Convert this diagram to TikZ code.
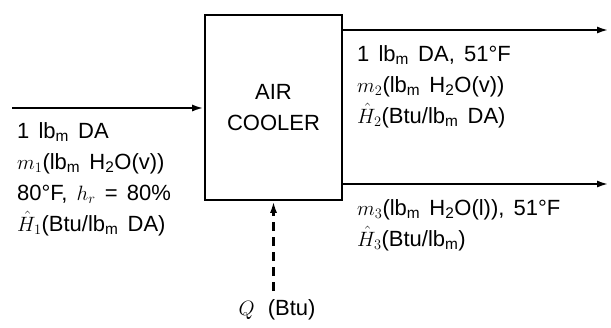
\documentclass[tikz,border=0pt]{standalone}
\usepackage{amsmath}
\usepackage{fontspec}
\setmainfont[WordSpace=1.5]{Liberation Sans}
\usepackage{tikz}
\usetikzlibrary{arrows.meta,positioning}

\begin{document}
\begin{tikzpicture}[x=1pt, y=-1pt, font=\fontsize{22}{31}\selectfont,
  flow/.style={line width=2.4pt, -{Latex[length=12pt,width=7pt]}},
  lbl/.style={anchor=north west, align=left, inner sep=0pt}]
  \useasboundingbox (0,0) rectangle (611,327);
  \node[draw, line width=1.8pt, minimum width=137pt, minimum height=185pt, align=center]
    (cooler) at (273.5,107.5) {AIR\\COOLER};
  \node[lbl] (feed) at (17,122)
    {1 lb\textsubscript{m} DA\\ $m_1$(lb\textsubscript{m} H\textsubscript{2}O(v))\\
     80°F, $h_r$ = 80\%\\ $\hat{H}_1$(Btu/lb\textsubscript{m} DA)};
  \node[lbl] (vap) at (357,45)
    {1 lb\textsubscript{m} DA, 51°F\\ $m_2$(lb\textsubscript{m} H\textsubscript{2}O(v))\\
     $\hat{H}_2$(Btu/lb\textsubscript{m} DA)};
  \node[lbl] (liq) at (357,199)
    {$m_3$(lb\textsubscript{m} H\textsubscript{2}O(l)), 51°F\\ $\hat{H}_3$(Btu/lb\textsubscript{m})};
  \node (heat) at (277,310) {$Q$\hspace{4pt} (Btu)};
  \coordinate (inflow) at (12,108);
  \coordinate (vapout) at (609,30);
  \coordinate (liqout) at (609,184);
  \draw[flow] (inflow) -- (inflow -| cooler.west);
  \draw[flow] (vapout -| cooler.east) -- (vapout);
  \draw[flow] (liqout -| cooler.east) -- (liqout);
  \draw[flow, dash pattern=on 9pt off 6pt, shorten <=5pt] (heat.north -| cooler.south) -- (cooler.south);
\end{tikzpicture}
\end{document}
